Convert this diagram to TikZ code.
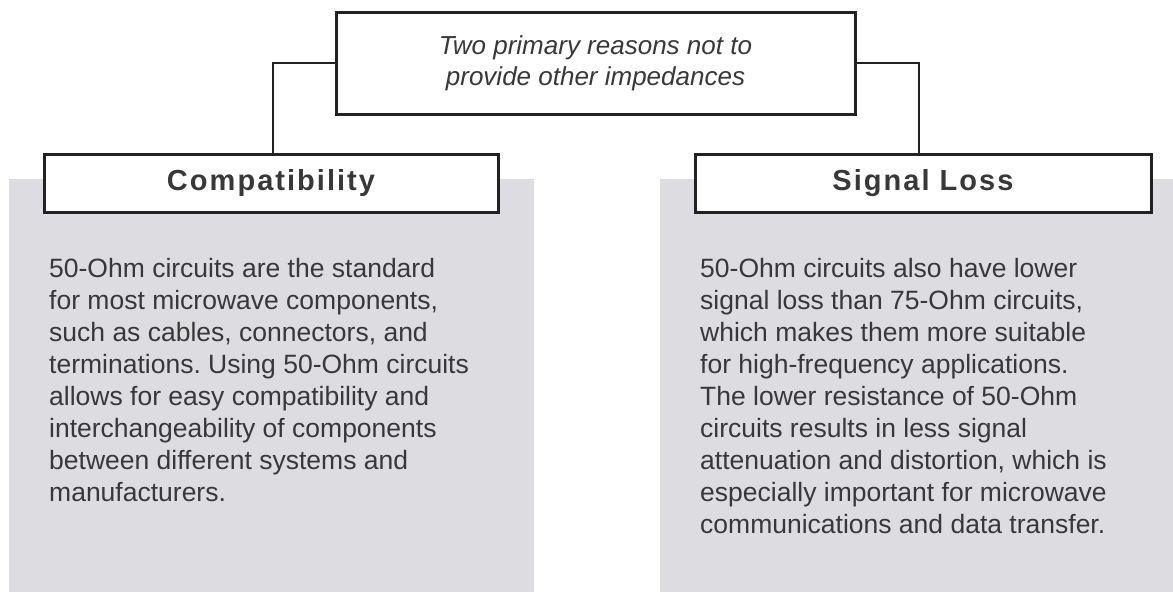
\documentclass[tikz,border=0pt]{standalone}
\usepackage{fontspec}
\setmainfont{Liberation Sans}
\newfontfamily\headfont[LetterSpace=7]{Liberation Sans}
\frenchspacing
\usepackage{tikz}
\usetikzlibrary{positioning}
\usetikzlibrary{calc}
\definecolor{panelgrey}{HTML}{DDDCE1}
\definecolor{inkgrey}{HTML}{383838}
\definecolor{edgegrey}{HTML}{222222}
\tikzset{
  % Common styles for the diagram
  line/.style={draw=edgegrey, line width=2.6pt},
  panel/.style={fill=panelgrey, anchor=north west, inner sep=0pt, minimum height=413pt}
}

\begin{document}
\begin{tikzpicture}[x=1pt, y=1pt]
    % Define styles
    \tikzstyle{topbox} = [rectangle, draw=edgegrey, line width=3pt, fill=white, minimum width=519pt, minimum height=102pt, align=center, text=inkgrey, font=\fontsize{26}{31}\selectfont\itshape]
    \tikzstyle{headbox} = [rectangle, draw=edgegrey, line width=3pt, fill=white, minimum height=58pt, text=inkgrey, font=\fontsize{29}{32}\selectfont\headfont\bfseries]
    \tikzstyle{bodytext} = [inner sep=0pt, align=left, text=inkgrey, font=\fontsize{26.5}{32}\selectfont]

    \useasboundingbox (0,0) rectangle (1173,-592);

    % Place nodes
    \node [panel, minimum width=525pt] (leftpanel) at (9,-179) {};
    \node [panel, minimum width=513pt] (rightpanel) at (660,-179) {};
    \node [topbox] (reasons) at (595.5,-63) {Two primary reasons not to\\provide other impedances};
    \node [headbox, minimum width=454pt] (compat) at (271,-183) {Compatibility};
    \node [headbox, minimum width=456pt] (loss) at (923,-183) {Signal Loss};
    \node [bodytext, below right=79pt and 40pt of leftpanel.north west] (compattext) {50-Ohm circuits are the standard\\for most microwave components,\\such as cables, connectors, and\\terminations. Using 50-Ohm circuits\\allows for easy compatibility and\\interchangeability of components\\between different systems and\\manufacturers.};
    \node [bodytext, below right=79pt and 40pt of rightpanel.north west] (losstext) {50-Ohm circuits also have lower\\signal loss than 75-Ohm circuits,\\which makes them more suitable\\for high-frequency applications.\\The lower resistance of 50-Ohm\\circuits results in less signal\\attenuation and distortion, which is\\especially important for microwave\\communications and data transfer.};

    % Draw edges
    \path [line] (reasons.west) -| ([xshift=2pt]compat.north);
    \path [line] (reasons.east) -| ([xshift=-4pt]loss.north);

\end{tikzpicture}
\end{document}
